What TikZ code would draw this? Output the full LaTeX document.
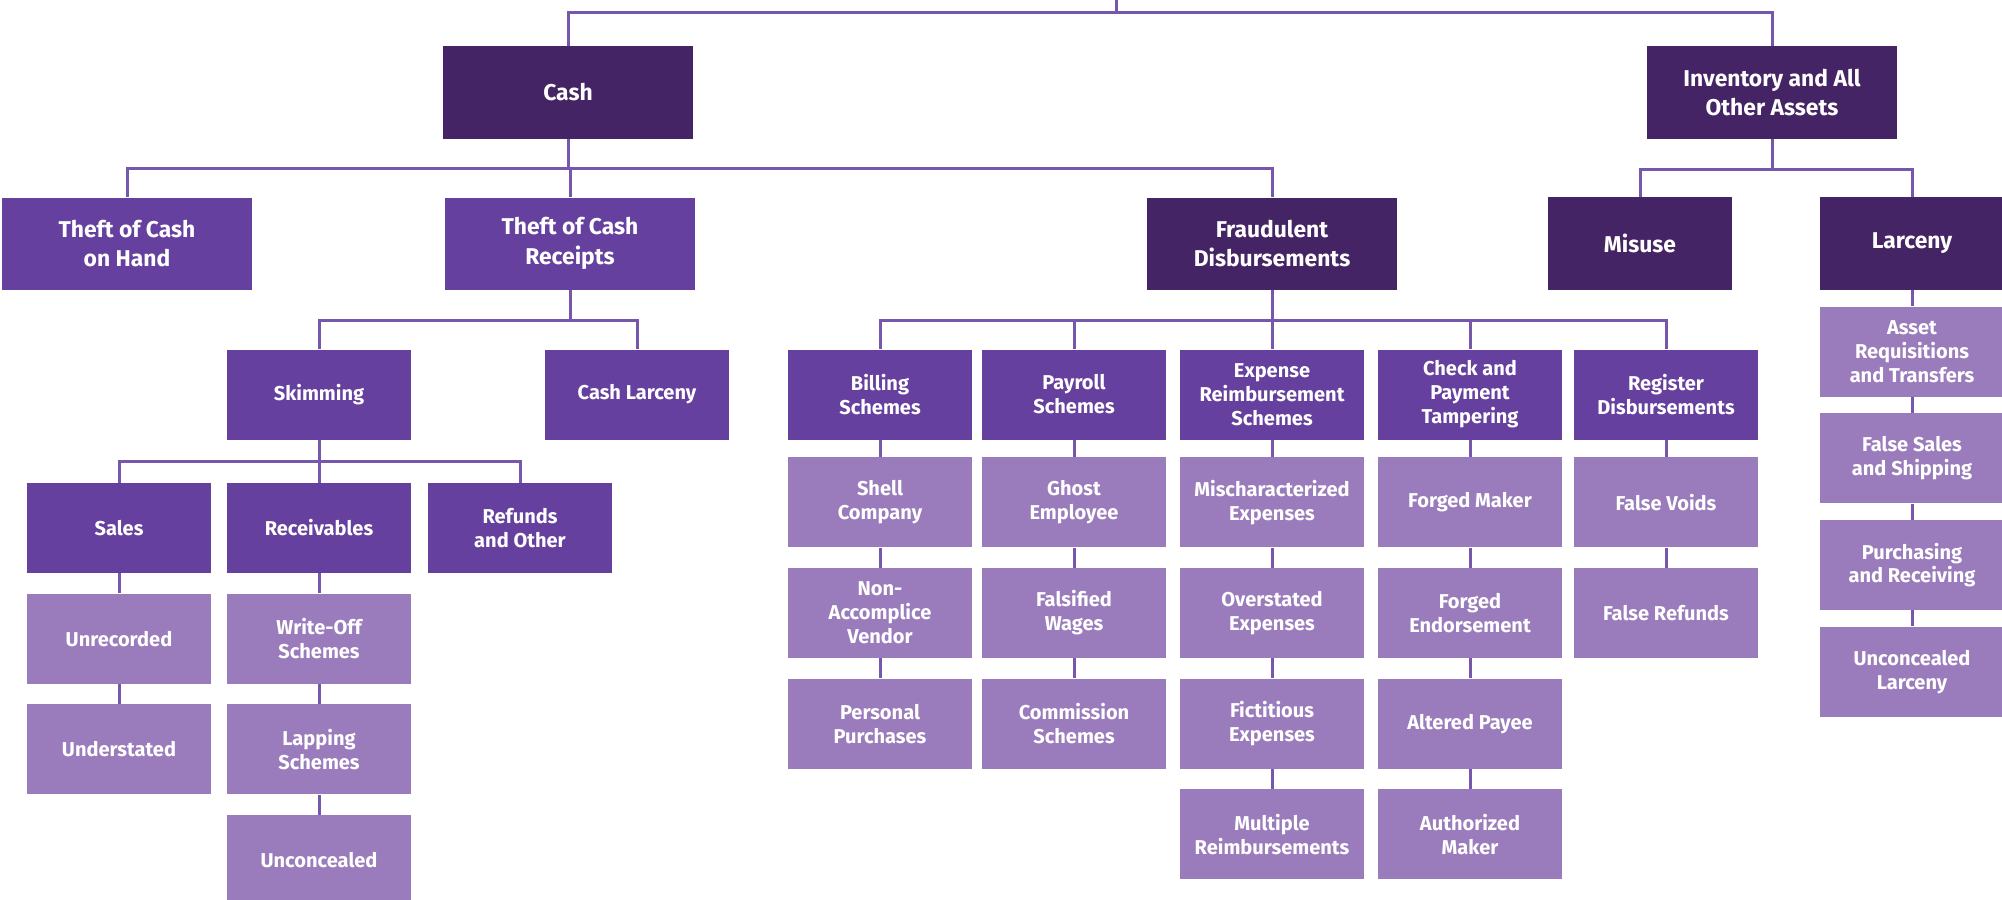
\documentclass[tikz,border=0pt]{standalone}
\usepackage{fontspec}
\setmainfont{Fira Sans}
\usetikzlibrary{positioning}

\definecolor{darkp}{HTML}{442464}
\definecolor{midp}{HTML}{65409E}
\definecolor{litep}{HTML}{9A7CBC}
\definecolor{linep}{HTML}{7558AC}

\tikzset{
  cell/.style = {text=white, align=center, inner sep=0pt},
  bigbox/.style = {cell, minimum width=50mm, minimum height=18.4mm,
    font=\fontsize{13}{17}\selectfont\bfseries},
  smallbox/.style = {cell, minimum width=36.8mm, minimum height=18mm,
    font=\fontsize{11.4}{13.6}\selectfont\bfseries},
  darkbox/.style = {fill=darkp},
  midbox/.style = {fill=midp},
  litebox/.style = {smallbox, fill=litep},
  link/.style = {draw=linep, line width=0.6mm}
}

\begin{document}
\begin{tikzpicture}[x=0.2mm, y=-0.2mm, node distance=4mm]
		\useasboundingbox (0,0) rectangle (2002,899);
		\coordinate (root) at (1116,0);

		% first and second level
		\node[bigbox, darkbox] (cash) at (568,92.5) {Cash};
		\node[bigbox, darkbox] (inv) at (1772,92.5) {Inventory and All\\Other Assets};
		\node[bigbox, midbox] (hand) at (127,243.5) {Theft of Cash\\on Hand};
		\node[bigbox, midbox] (receipts) at (570,243.5) {Theft of Cash\\Receipts};
		\node[bigbox, darkbox] (fraud) at (1272,243.5) {Fraudulent\\Disbursements};
		\node[smallbox, darkbox, minimum height=18.6mm, font=\fontsize{13}{17}\selectfont\bfseries] (misuse) at (1640,243.5) {Misuse};
		\node[smallbox, darkbox, minimum height=18.6mm, font=\fontsize{13}{17}\selectfont\bfseries] (larceny) at (1912,243.5) {Larceny};

		% receipts branch
		\node[smallbox, midbox] (skim) at (319,394.5) {Skimming};
		\node[smallbox, midbox] (clarc) at (637,394.5) {Cash Larceny};
		\node[smallbox, midbox] (sales) at (119,528) {Sales};
		\node[smallbox, midbox] (recv) at (319,528) {Receivables};
		\node[smallbox, midbox] (refund) at (520,528) {Refunds\\and Other};
		\node[litebox] (unrec) [below=of sales] {Unrecorded};
		\node[litebox] (under) [below=of unrec] {Understated};
		\node[litebox] (wroff) [below=of recv] {Write-Off\\Schemes};
		\node[litebox] (lapp) [below=of wroff] {Lapping\\Schemes};
		\node[litebox] (uncon) [below=of lapp] {Unconcealed};

		% disbursement schemes
		\node[smallbox, midbox] (bill) at (880,394.5) {Billing\\Schemes};
		\node[smallbox, midbox] (pay) at (1074,394.5) {Payroll\\Schemes};
		\node[smallbox, midbox] (expense) at (1272,394.5) {Expense\\Reimbursement\\Schemes};
		\node[smallbox, midbox] (check) at (1470,394.5) {Check and\\Payment\\Tampering};
		\node[smallbox, midbox] (register) at (1666,394.5) {Register\\Disbursements};

		\node[litebox] (shell) [below=3.4mm of bill] {Shell\\Company};
		\node[litebox] (nonacc) [below=of shell] {Non-\\Accomplice\\Vendor};
		\node[litebox] (personal) [below=of nonacc] {Personal\\Purchases};
		\node[litebox] (ghost) [below=3.4mm of pay] {Ghost\\Employee};
		\node[litebox] (wages) [below=of ghost] {Falsified\\Wages};
		\node[litebox] (commission) [below=of wages] {Commission\\Schemes};
		\node[litebox] (mischar) [below=3.4mm of expense] {Mischaracterized\\Expenses};
		\node[litebox] (overst) [below=of mischar] {Overstated\\Expenses};
		\node[litebox] (fictit) [below=of overst] {Fictitious\\Expenses};
		\node[litebox] (multiple) [below=of fictit] {Multiple\\Reimbursements};
		\node[litebox] (fmaker) [below=3.4mm of check] {Forged Maker};
		\node[litebox] (fendorse) [below=of fmaker] {Forged\\Endorsement};
		\node[litebox] (altered) [below=of fendorse] {Altered Payee};
		\node[litebox] (authmaker) [below=of altered] {Authorized\\Maker};
		\node[litebox] (voids) [below=3.4mm of register] {False Voids};
		\node[litebox] (frefunds) [below=of voids] {False Refunds};

		% larceny column
		\node[litebox] (requis) [below=3.2mm of larceny] {Asset\\Requisitions\\and Transfers};
		\node[litebox] (fsales) [below=3.2mm of requis] {False Sales\\and Shipping};
		\node[litebox] (purch) [below=3.2mm of fsales] {Purchasing\\and Receiving};
		\node[litebox] (ularc) [below=3.2mm of purch] {Unconcealed\\Larceny};

		% tree connectors
		\draw[link] (root) -- ++(0,13) -| (cash.north);
		\draw[link] (root) -- ++(0,13) -| (inv.north);
		\draw[link] (cash.south) -- ++(0,30) -| (hand.north);
		\draw[link] (cash.south) -- ++(0,30) -| (receipts.north);
		\draw[link] (cash.south) -- ++(0,30) -| (fraud.north);
		\draw[link] (inv.south) -- ++(0,31) -| (misuse.north);
		\draw[link] (inv.south) -- ++(0,31) -| (larceny.north);
		\draw[link] (receipts.south) -- ++(0,31) -| (skim.north);
		\draw[link] (receipts.south) -- ++(0,31) -| (clarc.north);
		\draw[link] (skim.south) -- ++(0,22) -| (sales.north);
		\draw[link] (skim.south) -- ++(0,22) -| (recv.north);
		\draw[link] (skim.south) -- ++(0,22) -| (refund.north);
		\draw[link] (fraud.south) -- ++(0,31) -| (bill.north);
		\draw[link] (fraud.south) -- ++(0,31) -| (pay.north);
		\draw[link] (fraud.south) -- ++(0,31) -| (expense.north);
		\draw[link] (fraud.south) -- ++(0,31) -| (check.north);
		\draw[link] (fraud.south) -- ++(0,31) -| (register.north);

		% stacked connectors
		\draw[link] (sales) -- (unrec) (unrec) -- (under);
		\draw[link] (recv.south) -- (wroff.north) (wroff.south) -- (lapp.north) (lapp.south) -- (uncon.north);
		\draw[link] (bill.south) -- (shell.north) (shell.south) -- (nonacc.north) (nonacc.south) -- (personal.north);
		\draw[link] (pay.south) -- (ghost.north) (ghost.south) -- (wages.north) (wages.south) -- (commission.north);
		\draw[link] (expense.south) -- (mischar.north) (mischar.south) -- (overst.north) (overst.south) -- (fictit.north) (fictit.south) -- (multiple.north);
		\draw[link] (check.south) -- (fmaker.north) (fmaker.south) -- (fendorse.north) (fendorse.south) -- (altered.north) (altered.south) -- (authmaker.north);
		\draw[link] (register.south) -- (voids.north) (voids.south) -- (frefunds.north);
		\draw[link] (larceny.south) -- (requis.north) (requis.south) -- (fsales.north) (fsales.south) -- (purch.north) (purch.south) -- (ularc.north);
\end{tikzpicture}
\end{document}
